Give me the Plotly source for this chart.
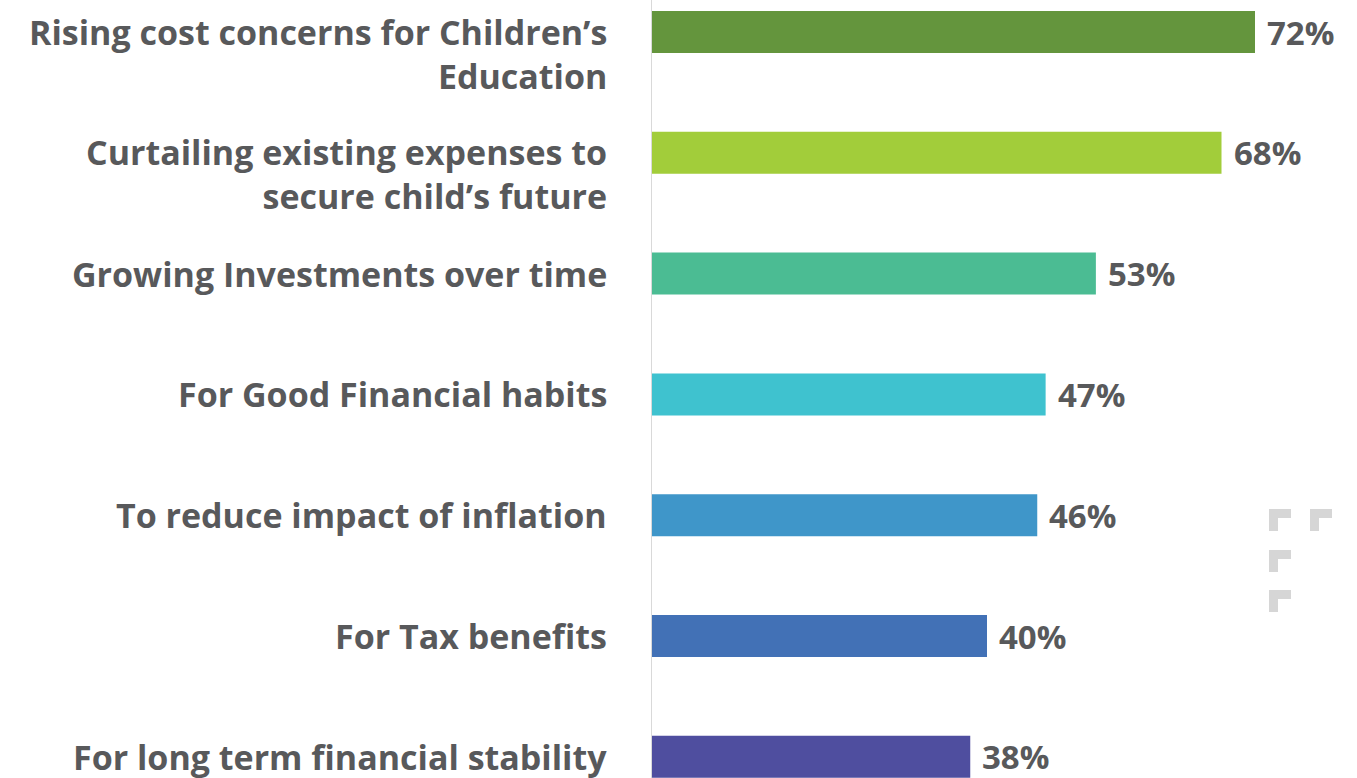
import plotly.graph_objects as go

categories = [
    "Rising cost concerns for Children’s<br>Education",
    "Curtailing existing expenses to<br>secure child’s future",
    "Growing Investments over time",
    "For Good Financial habits",
    "To reduce impact of inflation",
    "For Tax benefits",
    "For long term financial stability",
]
values = [72, 68, 53, 47, 46, 40, 38]
value_labels = ["72%", "68%", "53%", "47%", "46%", "40%", "38%"]
colors = ["#64953D", "#A2CD3A", "#4BBC93", "#3FC2CF", "#3F96C9", "#4271B6", "#4F4E9F"]

W, H = 1357, 778
L = 652
TEXT = "#58595B"
FONT = "Open Sans"

cat_ids = list(range(len(categories)))

fig = go.Figure(go.Bar(
    x=values, y=cat_ids, orientation="h",
    marker=dict(color=colors, line=dict(width=0)),
    hoverinfo="skip",
))

annotations = []
for i, (c, v, vl) in enumerate(zip(categories, values, value_labels)):
    nlines = c.count("<br>") + 1
    annotations.append(dict(
        x=0, y=i, xref="paper", yref="y", text=c, showarrow=False,
        xanchor="right", yanchor="middle", align="right", xshift=-43,
        yshift=-(nlines - 1) * 21.5,
        font=dict(family=FONT, size=34, color=TEXT, weight="bold"),
    ))
    annotations.append(dict(
        x=v, y=i, xref="x", yref="y", text=vl, showarrow=False,
        xanchor="left", yanchor="middle", xshift=10,
        font=dict(family=FONT, size=33, color=TEXT, weight="bold"),
    ))

# decorative corner marks (pixel -> paper)
pw = W - L
def px(x):
    return (x - L) / pw
def py(y):
    return 1 - y / H

shapes = []
for (x0, y0) in [(1269, 509), (1310, 509), (1269, 550), (1269, 590)]:
    s, t = 22, 9
    pts = [(x0, y0), (x0 + s, y0), (x0 + s, y0 + t), (x0 + t, y0 + t), (x0 + t, y0 + s), (x0, y0 + s)]
    path = "M " + " L ".join(f"{px(a):.5f},{py(b):.5f}" for a, b in pts) + " Z"
    shapes.append(dict(type="path", xref="paper", yref="paper", path=path,
                       fillcolor="#D6D6D6", line=dict(width=0), layer="above"))

spacing = 120.8
top_center = 32
fig.update_layout(
    width=W, height=H,
    margin=dict(l=L, r=0, t=0, b=0),
    paper_bgcolor="white", plot_bgcolor="white",
    showlegend=False,
    bargap=1 - 42 / spacing,
    xaxis=dict(range=[0, pw / 8.375], visible=False, fixedrange=True),
    yaxis=dict(
        range=[(H - top_center) / spacing, -top_center / spacing],
        showticklabels=False, showgrid=False, zeroline=False,
        showline=True, linecolor="#D9D9D9", linewidth=1, ticks="",
        fixedrange=True,
    ),
    annotations=annotations,
    shapes=shapes,
)

fig.write_html(
    "out.html",
    config={"displayModeBar": False, "staticPlot": True},
    post_script="document.body.style.margin='0';document.body.style.overflow='hidden';",
)
